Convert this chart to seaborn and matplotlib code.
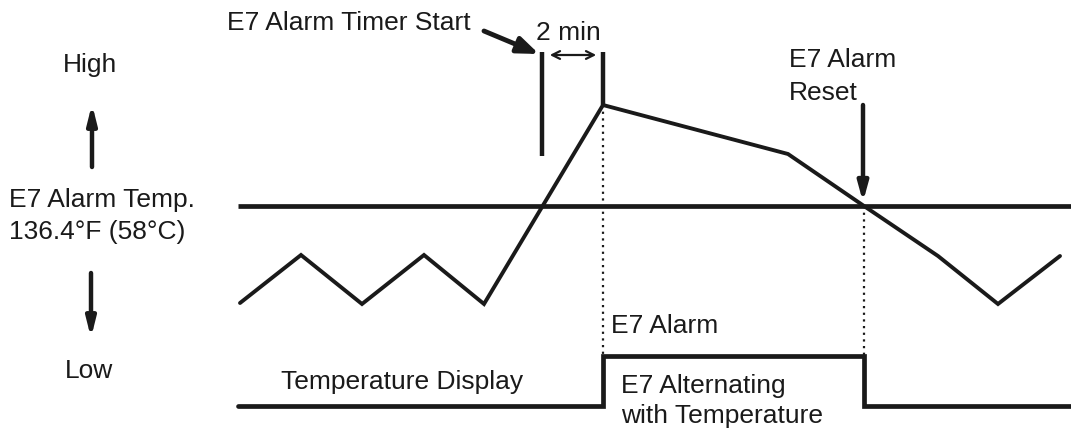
"""E7 alarm timing diagram."""

import matplotlib
matplotlib.use("Agg")
import matplotlib.pyplot as plt
import seaborn as sns
import pandas as pd

# temperature trace (x = time position, y = vertical position, top down)
temp_x = [240, 301, 362, 424, 484, 603, 788, 864, 938, 998, 1060]
temp_y = [304, 256, 305, 256, 305, 106, 155, 207, 257, 305, 257]

# alarm threshold level
alarm_y = 207
alarm_x = [238, 1071]

# display state signal (low = temperature, high = E7 alternating)
disp_x = [238, 603, 603, 864, 864, 1071]
disp_y = [407, 407, 357, 357, 407, 407]

timer_start_x = 542
alarm_on_x = 603
reset_x = 864

sns.set_theme(style="white")
plt.rcParams["font.family"] = ["Liberation Sans", "DejaVu Sans"]

fig = plt.figure(figsize=(10.71, 4.31), dpi=100)
ax = fig.add_axes([0, 0, 1, 1])
ax.set_xlim(0, 1071)
ax.set_ylim(431, 0)
ax.axis("off")

ink = "#1a1a1a"
fs = 19

temp = pd.DataFrame({"x": temp_x, "y": temp_y})
sns.lineplot(data=temp, x="x", y="y", sort=False, estimator=None, color=ink,
             lw=2.8, ax=ax, solid_joinstyle="miter")
ax.plot(alarm_x, [alarm_y, alarm_y], color=ink, lw=3.4, solid_capstyle="butt")
disp = pd.DataFrame({"x": disp_x, "y": disp_y})
sns.lineplot(data=disp, x="x", y="y", sort=False, estimator=None, color=ink,
             lw=3.4, ax=ax, solid_joinstyle="miter")

# timer markers
ax.plot([timer_start_x, timer_start_x], [53, 157], color=ink, lw=3.2, solid_capstyle="butt")
ax.plot([alarm_on_x, alarm_on_x], [53, temp_y[5]], color=ink, lw=3.2, solid_capstyle="butt")

# dotted guides
ax.plot([alarm_on_x, alarm_on_x], [temp_y[5], disp_y[2]], color=ink, lw=1.6, ls=(0, (1, 2)))
ax.plot([reset_x, reset_x], [alarm_y, disp_y[2]], color=ink, lw=1.6, ls=(0, (1, 2)))

# 2 min double arrow
ax.annotate("", xy=(alarm_on_x - 4, 56), xytext=(timer_start_x + 5, 56),
            arrowprops=dict(arrowstyle="<->", color=ink, lw=1.6,
                            mutation_scale=14))
ax.text(568, 33, "2 min", fontsize=fs, ha="center", va="center", color=ink)

# timer start label arrow
ax.text(227, 23, "E7 Alarm Timer Start", fontsize=fs, ha="left", va="center", color=ink)
ax.annotate("", xy=(539, 55), xytext=(484, 32),
            arrowprops=dict(arrowstyle="-|>,head_length=0.9,head_width=0.35",
                            color=ink, lw=3.5, shrinkA=0, shrinkB=0,
                            mutation_scale=14))

# reset arrow
ax.text(789, 60, "E7 Alarm", fontsize=fs, ha="left", va="center", color=ink)
ax.text(789, 93, "Reset", fontsize=fs, ha="left", va="center", color=ink)
ax.annotate("", xy=(reset_x - 1, 203), xytext=(reset_x - 1, 106),
            arrowprops=dict(arrowstyle="-|>,head_length=0.8,head_width=0.22",
                            color=ink, lw=3.2, shrinkA=0, shrinkB=0,
                            mutation_scale=14))

# left scale
ax.text(90, 65, "High", fontsize=fs, ha="center", va="center", color=ink)
ax.annotate("", xy=(92, 105), xytext=(92, 168),
            arrowprops=dict(arrowstyle="-|>,head_length=0.8,head_width=0.2",
                            color=ink, lw=3.2, shrinkA=0, shrinkB=0,
                            mutation_scale=14))
ax.text(9, 200, "E7 Alarm Temp.", fontsize=fs, ha="left", va="center", color=ink)
ax.text(9, 232, "136.4°F (58°C)", fontsize=fs, ha="left", va="center", color=ink)
ax.annotate("", xy=(91, 339), xytext=(91, 274),
            arrowprops=dict(arrowstyle="-|>,head_length=0.8,head_width=0.2",
                            color=ink, lw=3.2, shrinkA=0, shrinkB=0,
                            mutation_scale=14))
ax.text(89, 371, "Low", fontsize=fs, ha="center", va="center", color=ink)

# display state labels
ax.text(611, 326, "E7 Alarm", fontsize=fs, ha="left", va="center", color=ink)
ax.text(281, 382, "Temperature Display", fontsize=fs, ha="left", va="center", color=ink)
ax.text(621, 386, "E7 Alternating", fontsize=fs, ha="left", va="center", color=ink)
ax.text(621, 416, "with Temperature", fontsize=fs, ha="left", va="center", color=ink)

fig.savefig("out.png", dpi=100)
